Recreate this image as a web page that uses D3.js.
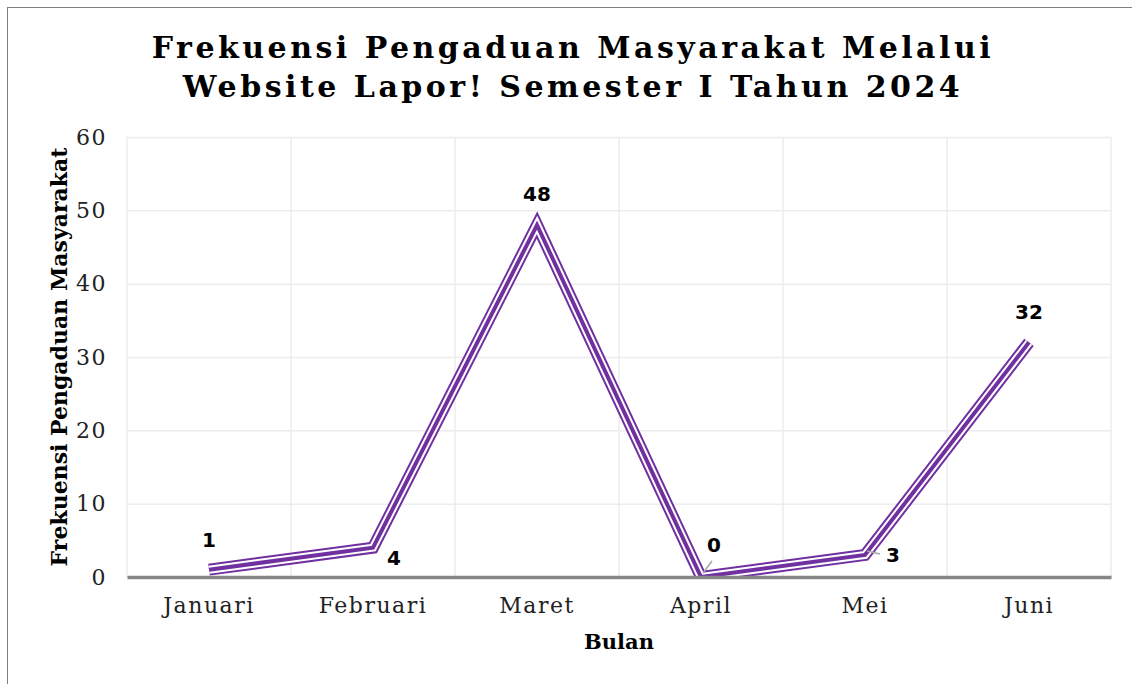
<!DOCTYPE html>
<html>
<head>
<meta charset="utf-8">
<script src="https://cdn.jsdelivr.net/npm/d3@7"></script>
<style>
  body { margin: 0; background: #fff; }
  svg { display: block; }
</style>
</head>
<body>
<div id="chart"></div>
<script>
// chart data
const months = ['Januari', 'Februari', 'Maret', 'April', 'Mei', 'Juni'];
const complaints = [1, 4, 48, 0, 3, 32];
const yTicks = [0, 10, 20, 30, 40, 50, 60];
const titleLines = ['Frekuensi Pengaduan Masyarakat Melalui', 'Website Lapor! Semester I Tahun 2024'];

const width = 1132, height = 684;
const margin = { top: 137, right: 21, bottom: 107, left: 127 };
const innerW = width - margin.left - margin.right;
const innerH = height - margin.top - margin.bottom;
const purple = '#7030a0';

const svg = d3.select('#chart').append('svg')
  .attr('width', width)
  .attr('height', height);

// outer chart border (runs off the right / bottom edge)
svg.append('rect')
  .attr('x', 7.5).attr('y', 7.5)
  .attr('width', width + 20).attr('height', height + 20)
  .attr('fill', '#fff')
  .attr('stroke', '#7f7f7f')
  .attr('stroke-width', 1);

const x = d3.scaleBand().domain(months).range([0, innerW]);
const y = d3.scaleLinear().domain([0, 60]).range([innerH, 0]);

const g = svg.append('g')
  .attr('transform', 'translate(' + margin.left + ',' + margin.top + ')');

// clip the series to the plot area
g.append('clipPath')
  .attr('id', 'plot-clip')
  .append('rect')
  .attr('x', -10).attr('y', -20)
  .attr('width', innerW + 20).attr('height', innerH + 20);

// gridlines
g.selectAll('line.hgrid')
  .data(yTicks)
  .enter().append('line')
  .attr('class', 'hgrid')
  .attr('x1', 0).attr('x2', innerW)
  .attr('y1', d => y(d) + 0.5).attr('y2', d => y(d) + 0.5)
  .attr('stroke', '#ececec')
  .attr('stroke-width', 1.5);

const bounds = d3.range(months.length + 1).map(i => i * x.step());
g.selectAll('line.vgrid')
  .data(bounds)
  .enter().append('line')
  .attr('class', 'vgrid')
  .attr('x1', d => d).attr('x2', d => d)
  .attr('y1', 0).attr('y2', innerH)
  .attr('stroke', '#ececec')
  .attr('stroke-width', 1.5);

// y axis labels
const yAxis = g.append('g')
  .call(d3.axisLeft(y).tickValues(yTicks).tickSize(0).tickPadding(20));
yAxis.select('.domain').remove();
yAxis.selectAll('text')
  .attr('font-family', '"DejaVu Serif", serif')
  .attr('font-size', 22)
  .attr('letter-spacing', 1.5)
  .attr('fill', '#222');

// compound line: purple / white / purple
const line = d3.line()
  .x((d, i) => x(months[i]) + x.bandwidth() / 2)
  .y(d => y(d));

const series = g.append('g').attr('clip-path', 'url(#plot-clip)');
[[purple, 12], ['#fff', 8], [purple, 4]].forEach(s => {
  series.append('path')
    .datum(complaints)
    .attr('d', line)
    .attr('fill', 'none')
    .attr('stroke', s[0])
    .attr('stroke-width', s[1])
    .attr('stroke-linejoin', 'miter')
    .attr('stroke-miterlimit', 10);
});

// x axis (drawn after the line so it sits on top)
const xAxis = g.append('g')
  .attr('transform', 'translate(0,' + innerH + ')')
  .call(d3.axisBottom(x).tickSize(0).tickPadding(20));
xAxis.select('.domain')
  .attr('stroke', '#868686')
  .attr('stroke-width', 3.5);
xAxis.selectAll('text')
  .attr('font-family', '"DejaVu Serif", serif')
  .attr('font-size', 22)
  .attr('letter-spacing', 1.5)
  .attr('fill', '#222');

// data labels, offsets per point like the original
const labelOffsets = [
  { dx: 0, dy: -30, lead: false },
  { dx: 21, dy: 10, lead: false },
  { dx: 0, dy: -31, lead: false },
  { dx: 13, dy: -32, lead: true },
  { dx: 28, dy: 0, lead: true },
  { dx: 0, dy: -30, lead: false }
];

complaints.forEach((v, i) => {
  const cx = x(months[i]) + x.bandwidth() / 2;
  const cy = y(v);
  const o = labelOffsets[i];
  if (o.lead) {
    const lx2 = i === 3 ? cx + 11 : cx + 15;
    const ly2 = i === 3 ? cy - 16 : cy - 1;
    g.append('line')
      .attr('x1', cx + 2).attr('y1', cy - 4)
      .attr('x2', lx2).attr('y2', ly2)
      .attr('stroke', '#a6a6a6')
      .attr('stroke-width', 1.5);
  }
  g.append('text')
    .attr('x', cx + o.dx)
    .attr('y', cy + o.dy)
    .attr('dy', '0.35em')
    .attr('text-anchor', 'middle')
    .attr('font-family', '"DejaVu Sans", sans-serif')
    .attr('font-weight', 'bold')
    .attr('font-size', 20)
    .attr('fill', '#000')
    .text(v);
});

// title
svg.append('text')
  .attr('text-anchor', 'middle')
  .attr('font-family', '"DejaVu Serif", serif')
  .attr('font-weight', 'bold')
  .attr('font-size', 30)
  .attr('letter-spacing', 3.5)
  .selectAll('tspan')
  .data(titleLines)
  .enter().append('tspan')
  .attr('x', 573)
  .attr('y', (d, i) => 58 + i * 39)
  .text(d => d);

// axis titles
svg.append('text')
  .attr('x', margin.left + innerW / 2)
  .attr('y', 649)
  .attr('text-anchor', 'middle')
  .attr('font-family', '"DejaVu Serif", serif')
  .attr('font-weight', 'bold')
  .attr('font-size', 21)
  .text('Bulan');

svg.append('text')
  .attr('transform', 'translate(67,' + (margin.top + innerH / 2) + ') rotate(-90)')
  .attr('text-anchor', 'middle')
  .attr('font-family', '"DejaVu Serif", serif')
  .attr('font-weight', 'bold')
  .attr('font-size', 22)
  .text('Frekuensi Pengaduan Masyarakat');
</script>
</body>
</html>
